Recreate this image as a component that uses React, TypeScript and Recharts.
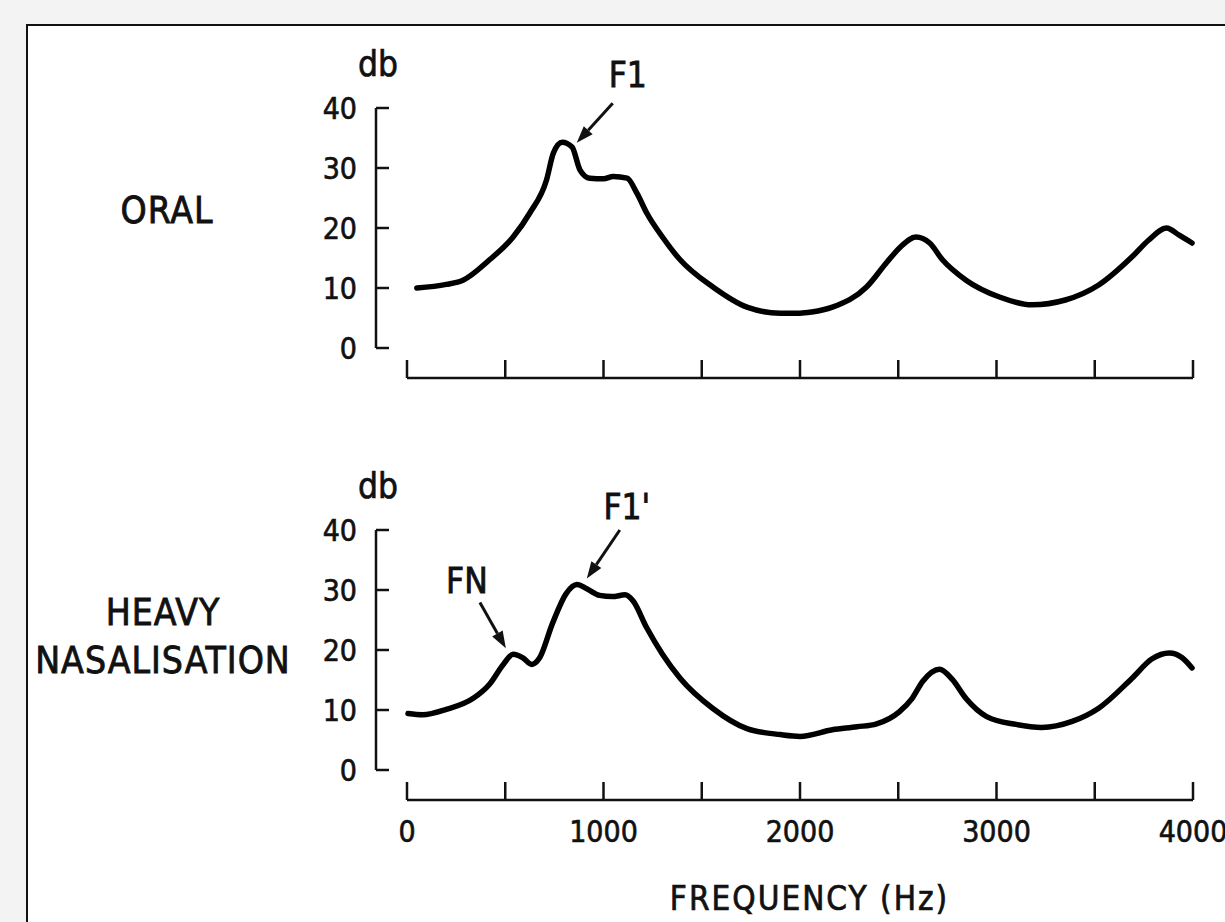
import { LineChart, Line, XAxis, YAxis, ReferenceLine } from "recharts";

// frequency axis (Hz) and level axis (db)
const freqTicks = [0, 500, 1000, 1500, 2000, 2500, 3000, 3500, 4000];
const freqLabels = ["0", "", "1000", "", "2000", "", "3000", "", "4000"];
const dbTicks = [0, 10, 20, 30, 40];

// ORAL spectrum envelope
const oralHz = [
  50, 200, 285, 420, 540, 625, 710, 745, 790, 840, 880, 930, 1000, 1050, 1120,
  1170, 1220, 1300, 1390, 1555, 1730, 1900, 2000, 2060, 2165, 2340, 2440, 2510,
  2590, 2660, 2725, 2845, 3015, 3180, 3350, 3520, 3690, 3775, 3865, 3930, 3995,
];
const oralDb = [
  10.0, 10.6, 11.3, 14.7, 18.5, 22.5, 28.0, 32.5, 34.3, 33.5, 29.7, 28.3, 28.2,
  28.6, 28.3, 25.8, 22.5, 18.5, 14.7, 10.2, 6.8, 5.8, 5.8, 6.0, 6.8, 10.2, 14.2,
  16.8, 18.5, 17.5, 14.7, 11.3, 8.5, 7.2, 8.0, 10.5, 15.2, 18.0, 20.0, 18.8, 17.5,
];

// HEAVY NASALISATION spectrum envelope
const nasalHz = [
  5, 80, 200, 335, 420, 490, 540, 590, 635, 675, 740, 810, 865, 915, 980, 1045,
  1110, 1150, 1220, 1300, 1390, 1555, 1730, 1900, 2000, 2165, 2290, 2390, 2505,
  2570, 2625, 2710, 2775, 2845, 2950, 3100, 3230, 3385, 3520, 3690, 3790, 3880,
  3945, 3995,
];
const nasalDb = [
  9.4, 9.2, 10.1, 11.9, 14.3, 17.6, 19.3, 18.7, 17.6, 18.7, 24.4, 29.4, 30.9,
  30.2, 29.1, 28.9, 29.2, 28.2, 23.7, 19.3, 15.3, 10.3, 6.9, 5.9, 5.6, 6.7, 7.2,
  7.7, 9.7, 11.9, 14.8, 16.8, 15.1, 11.9, 8.9, 7.6, 7.1, 8.1, 10.3, 15.3, 18.5,
  19.5, 18.7, 17.0,
];

// arrows: label, tail (hz, db), tip (hz, db)
const oralNotes = [{ text: "F1", tail: [1047, 40.8], tip: [864, 34.2] }];
const nasalNotes = [
  { text: "FN", tail: [371, 27.9], tip: [503, 20.3] },
  { text: "F1'", tail: [1083, 40.0], tip: [915, 31.9] },
];
const noteOffset: Record<string, [number, number]> = {
  F1: [15, -28],
  FN: [-13, -22],
  "F1'": [7, -23],
};

const FONT = "'DejaVu Sans Condensed', 'DejaVu Sans', sans-serif";
const INK = "#111";

const toRows = (hz: number[], db: number[]) => hz.map((h, i) => ({ hz: h, db: db[i] }));

function arrowShape(text: string) {
  const [dx, dy] = noteOffset[text] || [0, -20];
  return (p: any) => {
    const { x1, y1, x2, y2 } = p;
    const ang = Math.atan2(y2 - y1, x2 - x1);
    const len = 17;
    const half = 6;
    const bx = x2 - len * Math.cos(ang);
    const by = y2 - len * Math.sin(ang);
    const nx = -Math.sin(ang) * half;
    const ny = Math.cos(ang) * half;
    return (
      <g>
        <line x1={x1} y1={y1} x2={bx} y2={by} stroke={INK} strokeWidth={3} />
        <polygon
          points={`${x2},${y2} ${bx + nx},${by + ny} ${bx - nx},${by - ny}`}
          fill={INK}
        />
        <text
          x={x1 + dx}
          y={y1 + dy}
          textAnchor="middle"
          dominantBaseline="central"
          fontFamily={FONT}
          fontStretch="condensed"
          fontSize={35}
          fill={INK}
          stroke={INK}
          strokeWidth={0.8}
        >
          {text}
        </text>
      </g>
    );
  };
}

const tickFont = {
  fill: INK,
  stroke: INK,
  strokeWidth: 0.6,
  fontSize: 30,
  fontFamily: FONT,
  fontStretch: "condensed",
};

function Panel({
  rows,
  notes,
  top,
  height,
  showFreq,
}: {
  rows: { hz: number; db: number }[];
  notes: { text: string; tail: number[]; tip: number[] }[];
  top: number;
  height: number;
  showFreq: boolean;
}) {
  const axisH = height - 108 - 270;
  return (
    <div style={{ position: "absolute", left: 0, top }}>
      <LineChart
        width={1225}
        height={height}
        data={rows}
        margin={{ top: 108, right: 32, left: 0, bottom: 0 }}
      >
        <XAxis
          dataKey="hz"
          type="number"
          domain={[0, 4000]}
          ticks={freqTicks}
          interval={0}
          padding={{ left: 31, right: 0 }}
          height={axisH}
          axisLine={false}
          tickLine={{ stroke: INK, strokeWidth: 2.5 }}
          tickSize={-18}
          tickMargin={39}
          tick={tickFont}
          tickFormatter={(v: number) =>
            showFreq ? freqLabels[freqTicks.indexOf(v)] ?? "" : ""
          }
          label={
            showFreq
              ? {
                  content: (lp: any) => {
                    const vb = lp.viewBox || {};
                    return (
                      <text
                        x={vb.x + vb.width / 2 + 25}
                        y={vb.y + 98}
                        textAnchor="middle"
                        dominantBaseline="central"
                        fontFamily={FONT}
                        fontStretch="condensed"
                        fontSize={33}
                        letterSpacing={2}
                        fill={INK}
                        stroke={INK}
                        strokeWidth={0.7}
                      >
                        FREQUENCY (Hz)
                      </text>
                    );
                  },
                }
              : undefined
          }
        />
        <XAxis xAxisId="frame" type="number" domain={[0, 1]} allowDataOverflow hide />
        <YAxis
          type="number"
          domain={[0, 40]}
          ticks={dbTicks}
          interval={0}
          width={376}
          padding={{ top: 0, bottom: 30 }}
          axisLine={false}
          tickLine={{ stroke: INK, strokeWidth: 2.5 }}
          tickSize={-13}
          tickMargin={32}
          tick={tickFont}
          label={{
            content: (lp: any) => {
              const vb = lp.viewBox || {};
              return (
                <text
                  x={vb.x + vb.width + 2}
                  y={vb.y - 44}
                  textAnchor="middle"
                  dominantBaseline="central"
                  fontFamily={FONT}
                  fontStretch="condensed"
                  fontSize={35}
                  fill={INK}
                  stroke={INK}
                  strokeWidth={0.7}
                >
                  db
                </text>
              );
            },
          }}
        />
        <YAxis yAxisId="frame" type="number" domain={[0, 1]} allowDataOverflow hide />

        {/* bracket-style axis lines */}
        <ReferenceLine
          xAxisId="frame"
          segment={[{ x: 0, y: 0 }, { x: 0, y: 40 }]}
          ifOverflow="visible"
          stroke={INK}
          strokeWidth={2.5}
        />
        <ReferenceLine
          yAxisId="frame"
          segment={[{ x: 0, y: 0 }, { x: 4000, y: 0 }]}
          ifOverflow="visible"
          stroke={INK}
          strokeWidth={2.5}
        />

        <Line
          type="monotone"
          dataKey="db"
          stroke="#000"
          strokeWidth={5.5}
          strokeLinecap="round"
          strokeLinejoin="round"
          dot={false}
          isAnimationActive={false}
        />

        {notes.map((n) => (
          <ReferenceLine
            key={n.text}
            segment={[
              { x: n.tail[0], y: n.tail[1] },
              { x: n.tip[0], y: n.tip[1] },
            ]}
            ifOverflow="visible"
            shape={arrowShape(n.text)}
          />
        ))}
      </LineChart>
    </div>
  );
}

const sideLabel: React.CSSProperties = {
  position: "absolute",
  width: 300,
  textAlign: "center",
  fontFamily: FONT,
  fontStretch: "condensed",
  fontSize: 37,
  lineHeight: "48px",
  color: INK,
  letterSpacing: 1,
  WebkitTextStroke: "0.8px #111",
};

export default function App() {
  return (
    <div
      style={{
        position: "absolute",
        left: 0,
        top: 0,
        width: 1225,
        height: 922,
        background: "#f3f3f3",
        overflow: "hidden",
      }}
    >
      <div
        style={{
          position: "absolute",
          left: 26,
          top: 24,
          width: 1240,
          height: 940,
          background: "#fff",
          border: "2px solid #111",
        }}
      />
      <div style={{ ...sideLabel, left: 17, top: 187 }}>ORAL</div>
      <div style={{ ...sideLabel, left: 13, top: 589 }}>
        HEAVY
        <br />
        NASALISATION
      </div>
      <Panel rows={toRows(oralHz, oralDb)} notes={oralNotes} top={0} height={400} showFreq={false} />
      <Panel rows={toRows(nasalHz, nasalDb)} notes={nasalNotes} top={422} height={500} showFreq={true} />
    </div>
  );
}
